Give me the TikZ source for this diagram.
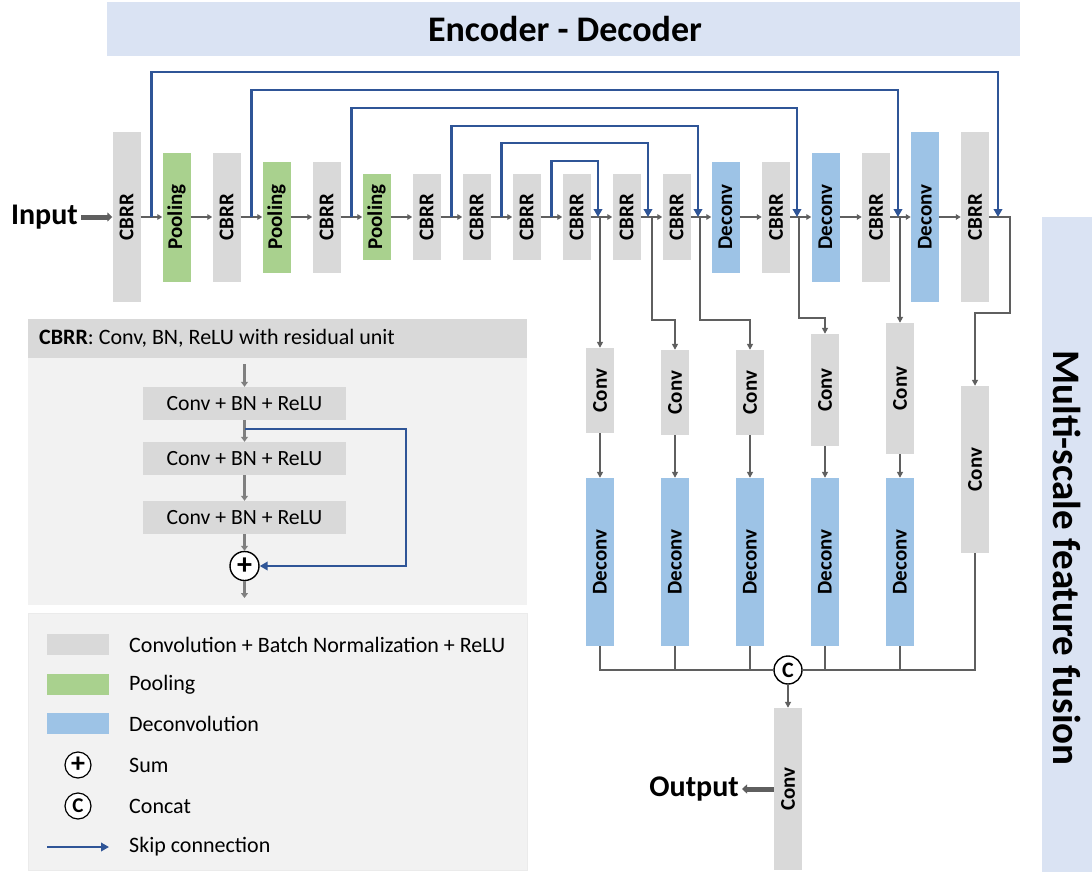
\documentclass[tikz,border=0pt]{standalone}
\usepackage{fontspec}
\setmainfont{Carlito}
\usepackage{graphicx}
\usetikzlibrary{arrows.meta,calc}
\definecolor{gblk}{HTML}{D9D9D9}
\definecolor{gpool}{HTML}{A9D18E}
\definecolor{bdec}{HTML}{9DC3E6}
\definecolor{barc}{HTML}{DAE3F3}
\definecolor{skipc}{HTML}{2F5597}
\definecolor{conn}{HTML}{5F5F5F}
\definecolor{inconn}{HTML}{808080}
\definecolor{lbg}{HTML}{F2F2F2}
\newcommand\fsz[1]{\fontsize{#1}{#1}\selectfont}
\newcommand\vlab[1]{\rotatebox{90}{#1}}
\begin{document}
\begin{tikzpicture}[x=1pt,y=-1pt,
  blk/.style={rectangle,inner sep=0pt,minimum width=28pt,font=\fsz{21}\bfseries},
  cbrr/.style={blk,fill=gblk},
  pool/.style={blk,fill=gpool},
  dec/.style={blk,fill=bdec},
  rowarr/.style={draw=conn,line width=1.6pt,-{Triangle[length=5pt,width=5.5pt]}},
  br/.style={draw=conn,line width=2pt,-{Triangle[length=6pt,width=6pt]}},
  brl/.style={draw=conn,line width=2pt},
  skipln/.style={draw=skipc,line width=2.8pt,-{Triangle[length=8pt,width=8.5pt]}},
  fat/.style={draw=conn,line width=5pt,-{Triangle[length=5pt,width=9pt]}},
  inarr/.style={draw=inconn,line width=3pt,-{Triangle[length=5pt,width=7pt]}},
  circ/.style={circle,draw=black,line width=1.4pt,fill=white,minimum size=28pt,inner sep=0pt,font=\fsz{22}\bfseries},
  rbox/.style={rectangle,fill=gblk,minimum width=203pt,minimum height=33pt,inner sep=0pt,font=\fsz{21.7}},
  legtxt/.style={anchor=west,inner sep=0pt,font=\fsz{22}},
  bigtxt/.style={inner sep=3pt,font=\fsz{30}\bfseries}
  ]
\useasboundingbox (0,0) rectangle (1092,872);

% bars
\fill[barc] (107,2) rectangle (1020,56);
\node[font=\fsz{36}\bfseries] (title) at (565,29) {Encoder - Decoder};
\fill[barc] (1042,217) rectangle (1092,872);
\node[rotate=-90,font=\fsz{39}\bfseries] (msf) at (1067,558) {Multi-scale feature fusion};

% main row
\node[cbrr,minimum height=169pt] (cb1) at (126.5,217) {\vlab{CBRR}};
\node[pool,minimum height=129pt] (po1) at (176.5,217) {\vlab{Pooling}};
\node[cbrr,minimum height=129pt] (cb2) at (226.5,217) {\vlab{CBRR}};
\node[pool,minimum height=111pt] (po2) at (276.5,217) {\vlab{Pooling}};
\node[cbrr,minimum height=111pt] (cb3) at (326.5,217) {\vlab{CBRR}};
\node[pool,minimum height=86pt] (po3) at (376.5,217) {\vlab{Pooling}};
\node[cbrr,minimum height=86pt] (cb4) at (426.5,217) {\vlab{CBRR}};
\node[cbrr,minimum height=86pt] (cb5) at (476.5,217) {\vlab{CBRR}};
\node[cbrr,minimum height=86pt] (cb6) at (526.5,217) {\vlab{CBRR}};
\node[cbrr,minimum height=86pt] (cb7) at (576.5,217) {\vlab{CBRR}};
\node[cbrr,minimum height=86pt] (cb8) at (626.5,217) {\vlab{CBRR}};
\node[cbrr,minimum height=86pt] (cb9) at (676.5,217) {\vlab{CBRR}};
\node[dec,minimum height=111pt] (de1) at (725.5,217) {\vlab{Deconv}};
\node[cbrr,minimum height=111pt] (cb10) at (776,217) {\vlab{CBRR}};
\node[dec,minimum height=129pt] (de2) at (825.5,217) {\vlab{Deconv}};
\node[cbrr,minimum height=129pt] (cb11) at (876,217) {\vlab{CBRR}};
\node[dec,minimum height=169pt] (de3) at (925,217) {\vlab{Deconv}};
\node[cbrr,minimum height=169pt] (cb12) at (975,217) {\vlab{CBRR}};

\foreach \a/\b in {cb1/po1,po1/cb2,cb2/po2,po2/cb3,cb3/po3,po3/cb4,cb4/cb5,cb5/cb6,cb6/cb7,cb7/cb8,cb8/cb9,cb9/de1,de1/cb10,cb10/de2,de2/cb11,cb11/de3,de3/cb12}
  \draw[rowarr] (\a.east) -- (\b.west);

% input
\node[bigtxt,anchor=east] (inp) at (81,217) {Input};
\draw[fat] (inp.east) -- (cb1.west);

% skip connections
\coordinate (t1) at (0,72);
\coordinate (t2) at (0,90);
\coordinate (t3) at (0,108);
\coordinate (t4) at (0,126);
\coordinate (t5) at (0,143);
\coordinate (t6) at (0,161);
\coordinate (k1) at ($(cb1.east)!0.5!(po1.west)$);
\coordinate (k2) at ($(cb2.east)!0.5!(po2.west)$);
\coordinate (k3) at ($(cb3.east)!0.5!(po3.west)$);
\coordinate (k4) at ($(cb4.east)!0.5!(cb5.west)$);
\coordinate (k5) at ($(cb5.east)!0.5!(cb6.west)$);
\coordinate (k6) at ($(cb6.east)!0.5!(cb7.west)$);
\coordinate (e1) at (998,217);
\coordinate (e2) at (898,217);
\coordinate (e3) at (797,217);
\coordinate (e4) at (698,217);
\coordinate (e5) at (648,217);
\coordinate (e6) at (598,217);
\foreach \i in {1,...,6}
  \draw[skipln] (k\i) -- (k\i |- t\i) -| (e\i);

% multi-scale fusion
\node[cbrr,minimum height=85pt] (mc1) at (600,390.5) {\vlab{Conv}};
\node[cbrr,minimum height=85pt] (mc2) at (675,392.5) {\vlab{Conv}};
\node[cbrr,minimum height=85pt] (mc3) at (750,392.5) {\vlab{Conv}};
\node[cbrr,minimum height=112pt] (mc4) at (825,390) {\vlab{Conv}};
\node[cbrr,minimum height=131pt] (mc5) at (900,388.5) {\vlab{Conv}};
\node[cbrr,minimum height=167pt] (mc6) at (975,469.5) {\vlab{Conv}};
\foreach \i/\x in {1/600,2/675,3/750,4/825,5/900}
  \node[dec,minimum height=168pt] (md\i) at (\x,562) {\vlab{Deconv}};

\coordinate (br1) at (600,217);
\coordinate (br2) at (652,217);
\coordinate (br3) at (700,217);
\coordinate (br4) at (799,217);
\coordinate (br5) at (900,217);
\draw[br] (br1) -- (mc1.north);
\draw[br] (br2) |- ([yshift=30pt]mc2.north) -- (mc2.north);
\draw[br] (br3) |- ([yshift=30pt]mc3.north) -- (mc3.north);
\draw[br] (br4) |- ([yshift=16pt]mc4.north) -- (mc4.north);
\draw[br] (br5) -- (mc5.north);
\draw[br] (cb12.east) -- ++(21,0) |- ([yshift=73pt]mc6.north) -- (mc6.north);
\foreach \i in {1,...,5}
  \draw[br] (mc\i.south) -- (md\i.north);

\node[circ] (cat) at (788,670) {C};
\draw[brl] (md1.south) |- (cat.west);
\draw[brl] (mc6.south) |- (cat.east);
\foreach \i in {2,3,4,5}
  \draw[brl] (md\i.south) -- (md\i.south |- cat.center);

\node[cbrr,minimum height=162pt] (fc) at (788,789) {\vlab{Conv}};
\draw[br] (cat.south) -- (fc.north);
\node[bigtxt,anchor=east] (outp) at (742,789) {Output};
\draw[fat] (fc.west) -- (outp.east);

% CBRR box
\fill[lbg] (28,358) rectangle (527,605);
\fill[gblk] (28,319) rectangle (527,358);
\node[anchor=west,inner sep=0pt,font=\fsz{22}] (hdr) at (39,338) {\textbf{CBRR}: Conv, BN, ReLU with residual unit};
\node[rbox] (r1) at (244.5,403.5) {Conv + BN + ReLU};
\node[rbox] (r2) at (244.5,458.5) {Conv + BN + ReLU};
\node[rbox] (r3) at (244.5,517.5) {Conv + BN + ReLU};
\node[circ,minimum size=29pt,font=\fsz{30}\bfseries] (sum) at (244.5,566) {+};
\coordinate (ain) at (244.5,364);
\coordinate (aout) at (244.5,598);
\draw[inarr] (ain) -- (r1.north);
\draw[inarr] (r1.south) -- (r2.north);
\draw[inarr] (r2.south) -- (r3.north);
\draw[inarr] (r3.south) -- (sum.north);
\draw[inarr] (sum.south) -- (aout);
\coordinate (rs) at (244.5,429);
\draw[skipln] (rs) -- ++(161.5,0) |- (sum.east);

% legend
\draw[draw=black!8,fill=lbg] (28,613) rectangle (527,870);
\fill[gblk] (47,634) rectangle (109,655);
\fill[gpool] (47,674) rectangle (109,695);
\fill[bdec] (47,713) rectangle (109,734);
\node[circ,minimum size=26pt,line width=1.2pt,font=\fsz{28}\bfseries] (lsum) at (78,765) {+};
\node[circ,minimum size=26pt,line width=1.2pt,font=\fsz{21}\bfseries] (lcat) at (78,806) {C};
\coordinate (ls1) at (47,847);
\coordinate (ls2) at (109,847);
\draw[skipln] (ls1) -- (ls2);
\node[legtxt] (l1) at (129,645) {Convolution + Batch Normalization + ReLU};
\node[legtxt] (l2) at (129,685) {Pooling};
\node[legtxt] (l3) at (129,724) {Deconvolution};
\node[legtxt] (l4) at (129,765) {Sum};
\node[legtxt] (l5) at (129,806) {Concat};
\node[legtxt] (l6) at (129,847) {Skip connection};
\end{tikzpicture}
\end{document}
